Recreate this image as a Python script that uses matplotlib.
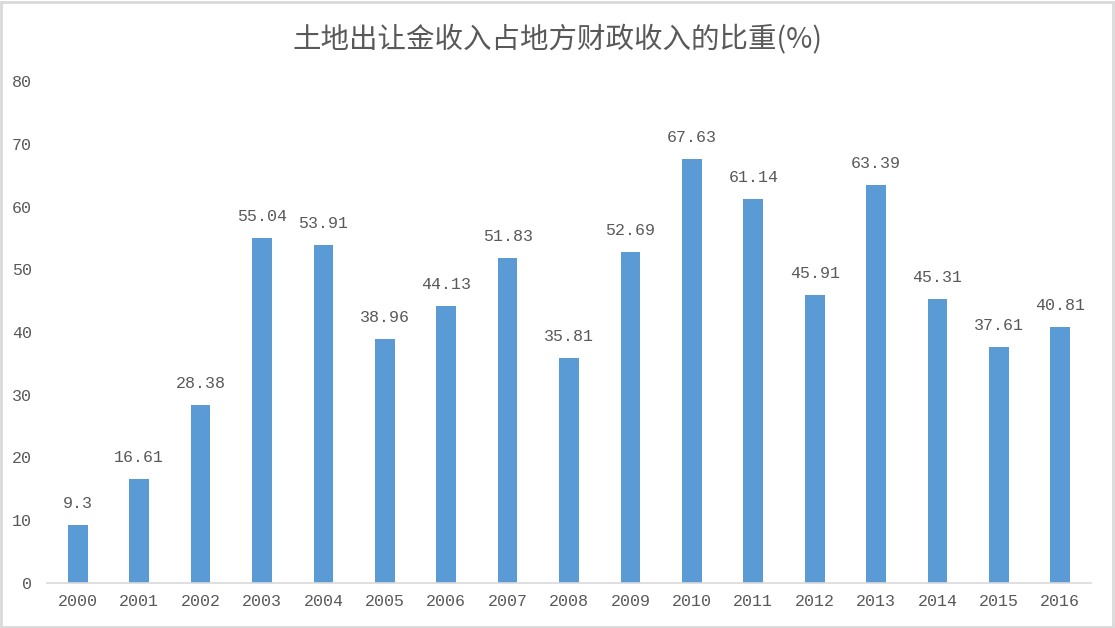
import matplotlib
matplotlib.use("Agg")
import matplotlib.pyplot as plt
from matplotlib.patches import Rectangle

years = ["2000", "2001", "2002", "2003", "2004", "2005", "2006", "2007", "2008",
         "2009", "2010", "2011", "2012", "2013", "2014", "2015", "2016"]
values = [9.3, 16.61, 28.38, 55.04, 53.91, 38.96, 44.13, 51.83, 35.81,
          52.69, 67.63, 61.14, 45.91, 63.39, 45.31, 37.61, 40.81]
labels = ["9.3", "16.61", "28.38", "55.04", "53.91", "38.96", "44.13", "51.83", "35.81",
          "52.69", "67.63", "61.14", "45.91", "63.39", "45.31", "37.61", "40.81"]
title = "土地出让金收入占地方财政收入的比重(%)"

text_color = "#595959"
bar_color = "#5B9BD5"
num_font = ["Liberation Mono", "DejaVu Sans Mono"]

fig = plt.figure(figsize=(11.15, 6.28), dpi=100)
ax = fig.add_axes([0.0422, 0.0717, 0.9363, 0.7993])

x = list(range(len(years)))
ax.bar(x, values, width=0.32, color=bar_color, zorder=2)
for xi, v, lab in zip(x, values, labels):
    ax.annotate(lab, (xi, v), xytext=(0, 10), textcoords="offset points",
                ha="center", va="bottom", fontsize=12, color=text_color,
                family=num_font)

ax.set_xlim(-0.5, len(years) - 0.5)
ax.set_ylim(0, 80)
ax.set_yticks(range(0, 81, 10))
ax.set_xticks(x)
ax.set_xticklabels(years)
for lab in ax.get_xticklabels() + ax.get_yticklabels():
    lab.set_family(num_font)
    lab.set_fontsize(12)
    lab.set_color(text_color)
ax.tick_params(axis="both", length=0)
ax.tick_params(axis="y", pad=11)
ax.tick_params(axis="x", pad=8)
for s in ["top", "right", "left"]:
    ax.spines[s].set_visible(False)
ax.spines["bottom"].set_color("#D9D9D9")
ax.spines["bottom"].set_linewidth(1.2)

fig.text(0.5, 0.937, title, ha="center", va="center", fontsize=20.5,
         color=text_color, family=["Noto Sans CJK SC", "DejaVu Sans"])

fig.patches.append(Rectangle((0.001, 0.002), 0.997, 0.995, transform=fig.transFigure,
                             fill=False, edgecolor="#D9D9D9", linewidth=2))

fig.savefig("out.png", dpi=100)
